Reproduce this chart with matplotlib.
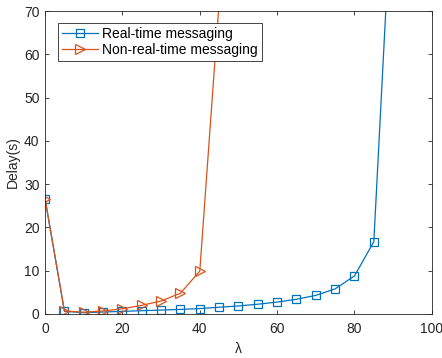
import matplotlib
matplotlib.use("Agg")
import matplotlib.pyplot as plt

lam = [0, 5, 10, 15, 20, 25, 30, 35, 40, 45, 50, 55, 60, 65, 70, 75, 80, 85, 90]
rt_delay = [26.6, 0.6, 0.3, 0.45, 0.6, 0.75, 0.9, 1.05, 1.25, 1.55, 1.85, 2.25, 2.75, 3.4, 4.3, 5.8, 8.8, 16.7, 103]
lam_nrt = [0, 5, 10, 15, 20, 25, 30, 35, 40, 45]
nrt_delay = [26.6, 0.7, 0.4, 0.7, 1.2, 2.0, 3.0, 4.8, 9.9, 72]

xticks = [0, 20, 40, 60, 80, 100]
yticks = [0, 10, 20, 30, 40, 50, 60, 70]

plt.rcParams['font.family'] = ['Liberation Sans', 'DejaVu Sans']
plt.rcParams['font.size'] = 10

fig = plt.figure(figsize=(4.42, 3.58), dpi=100)
ax = fig.add_axes([0.102, 0.123, 0.875, 0.846])

blue = '#0072BD'
orange = '#D95319'
ax.plot(lam, rt_delay, color=blue, lw=0.9, marker='s', ms=5.5, mfc='none', mec=blue, mew=0.9,
        label='Real-time messaging')
ax.plot(lam_nrt, nrt_delay, color=orange, lw=0.9, marker='>', ms=7.5, mfc='none', mec=orange, mew=0.9,
        label='Non-real-time messaging')

ax.set_xlim(0, 100)
ax.set_ylim(0, 70)
ax.set_xticks(xticks)
ax.set_yticks(yticks)
ax.tick_params(direction='in', top=True, right=True, length=3, width=0.6, colors='#262626', labelsize=10)
ax.tick_params(axis='x', pad=6)
ax.tick_params(axis='y', pad=4)
for s in ax.spines.values():
    s.set_color('#262626')
    s.set_linewidth(0.6)
ax.set_xlabel('λ', color='#262626', labelpad=4)
ax.set_ylabel('Delay(s)', color='#262626', labelpad=3)

leg = ax.legend(loc='upper left', bbox_to_anchor=(0.033, 0.962), fancybox=False, framealpha=1,
                edgecolor='#262626', borderpad=0.3, handlelength=2.6, handletextpad=0.3,
                labelspacing=0.15, borderaxespad=0)
leg.get_frame().set_linewidth(0.6)

fig.savefig('out.png', dpi=100)
